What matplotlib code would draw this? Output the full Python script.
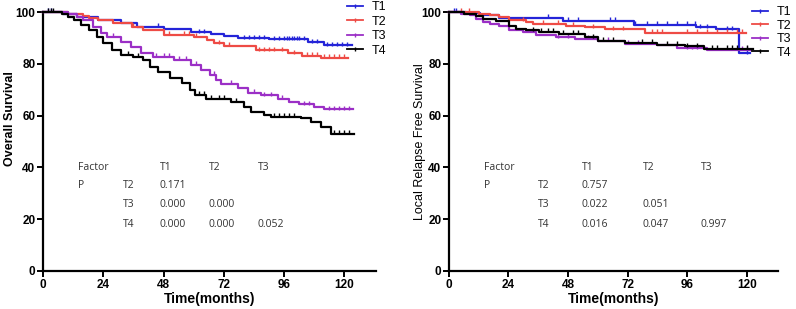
import numpy as np
import matplotlib
matplotlib.use('Agg')
import matplotlib.pyplot as plt

plt.rcParams['font.family'] = ['Liberation Sans', 'DejaVu Sans']

groups = ['T1', 'T2', 'T3', 'T4']
colors = ['#2424d8', '#ee4b45', '#9b2fc6', '#000000']

# Overall survival: step times (months) and survival (%)
os_t = {
    'T1': [0, 8, 13.5, 22, 31, 37.5, 48, 59, 67, 72, 77.5, 90, 105.5, 112, 123],
    'T2': [0, 10, 16, 18.5, 22, 28, 35.5, 40, 48, 60, 65.5, 68, 72, 84.7, 97.4, 103, 110.7, 121.5],
    'T3': [0, 10, 13.5, 16, 20, 23, 25.5, 31, 35, 39, 44, 52, 59, 63, 66.5, 69, 70.8, 77.5, 81.5,
           86.8, 93.4, 98, 102, 108, 112, 123.5],
    'T4': [0, 7.5, 10, 12.3, 15, 18.2, 21.5, 24, 27.5, 30.9, 36, 40, 42.5, 46, 50.5, 55.5, 58.5,
           60.5, 65, 74.8, 80, 82.7, 88, 90.7, 102.7, 106.7, 110.7, 114.7, 124],
}
os_v = {
    'T1': [100, 99.3, 97.9, 96.9, 95.6, 94.4, 93.5, 92.2, 91.4, 90.6, 89.8, 89.5, 88.4, 87.2, 87.2],
    'T2': [100, 99.2, 98.4, 97.6, 96.9, 95.6, 94.4, 93.1, 91.2, 90.5, 89.2, 87.9, 87.0, 85.3, 84.0,
           83.1, 82.3, 82.3],
    'T3': [100, 99.2, 97.9, 96.9, 94.4, 91.8, 90.5, 88.6, 86.6, 84.0, 82.8, 81.5, 79.6, 77.6, 75.7,
           73.7, 72.4, 70.5, 68.9, 67.9, 66.6, 65.3, 64.3, 63.5, 62.5, 62.5],
    'T4': [100, 99.2, 98.2, 96.9, 94.9, 93.0, 90.5, 87.9, 85.3, 83.4, 82.8, 81.5, 78.9, 77.0, 74.4,
           72.5, 69.9, 68.0, 66.6, 65.4, 63.5, 61.5, 60.2, 59.6, 59.0, 57.7, 55.7, 53.0, 53.0],
}
os_cens = {
    'T1': [2, 3, 46, 62, 64, 80, 82, 84, 86, 88, 92, 94, 96, 97, 98, 99, 100, 101, 102, 104, 107,
           109, 113, 115, 117, 119, 121],
    'T2': [36, 50, 56, 58, 61, 70, 74, 86, 88, 90, 92, 95, 100, 105, 107, 109, 112, 114, 116, 118, 120],
    'T3': [28, 45, 48, 50, 54, 57, 61, 68, 75, 84, 88, 91, 95, 104, 106, 114, 116, 118, 120, 122],
    'T4': [2, 3, 4, 34, 38, 62, 64, 67, 70, 72, 77, 92, 94, 96, 98, 100, 116, 118, 120, 122],
}

# Local relapse free survival
lr_t = {
    'T1': [0, 7, 12.4, 20, 46, 74.4, 99.6, 107.6, 117, 121.3],
    'T2': [0, 12, 16.4, 20, 24.4, 31, 34, 47, 55, 63, 79, 119.6],
    'T3': [0, 5, 8.4, 11, 13.7, 16.4, 20, 24.4, 29.7, 35, 43, 51, 60, 71, 84, 92, 104, 121.7],
    'T4': [0, 6, 11, 13.7, 19, 24.4, 27, 31, 36.4, 44.4, 55, 60, 71, 84, 95, 103, 122.4],
}
lr_v = {
    'T1': [100, 99.5, 99.0, 97.8, 96.6, 95.1, 94.1, 93.3, 84.0, 84.0],
    'T2': [100, 99.4, 98.7, 98.0, 96.8, 96.1, 95.5, 94.8, 94.2, 93.3, 92.0, 92.0],
    'T3': [100, 99.4, 98.7, 97.4, 96.1, 95.5, 94.6, 92.9, 92.3, 91.0, 90.3, 89.7, 89.0, 87.7, 87.1,
           86.0, 85.5, 85.5],
    'T4': [100, 99.4, 98.5, 97.2, 96.4, 94.8, 93.3, 92.9, 92.3, 91.6, 90.3, 89.0, 88.1, 87.4, 86.7,
           85.8, 85.8],
}
lr_cens = {
    'T1': [2, 3, 40, 48, 52, 65, 67, 75, 80, 84, 88, 92, 96, 99, 101, 104, 112, 114, 120],
    'T2': [5, 8, 30, 38, 44, 50, 58, 66, 70, 82, 84, 86, 96, 100, 104, 108, 112, 116, 118],
    'T3': [44, 48, 56, 64, 72, 76, 96, 98, 100, 118, 120],
    'T4': [34, 37, 40, 42, 46, 50, 52, 58, 62, 66, 78, 82, 88, 92, 96, 100, 106, 108, 112, 114, 116, 120],
}

# pairwise P tables
os_p = [['0.171', '', ''], ['0.000', '0.000', ''], ['0.000', '0.000', '0.052']]
lr_p = [['0.757', '', ''], ['0.022', '0.051', ''], ['0.016', '0.047', '0.997']]


def draw(ax, tt, vv, cc, pvals, cols_x, leg_xy, leg_sp):
    for g, c in zip(groups, colors):
        t = np.array(tt[g])
        v = np.array(vv[g])
        ax.step(t, v, where='post', color=c, lw=1.6, label=g, clip_on=False, zorder=3)
        ct = np.array(cc[g])
        idx = np.searchsorted(t, ct, side='right') - 1
        ax.plot(ct, v[idx] + 0.6, ls='none', marker='|', ms=3.5, mew=1.0, color=c,
                clip_on=False, zorder=3)
    ax.set_xlim(0, 132.5)
    ax.set_ylim(0, 100)
    ax.set_xticks([0, 24, 48, 72, 96, 120])
    ax.set_yticks([0, 20, 40, 60, 80, 100])
    for s in ['top', 'right']:
        ax.spines[s].set_visible(False)
    for s in ['left', 'bottom']:
        ax.spines[s].set_linewidth(1.6)
    ax.tick_params(width=1.4, length=4, labelsize=8.5, pad=1.5)
    for lab in ax.get_xticklabels() + ax.get_yticklabels():
        lab.set_fontweight('bold')
    ax.set_xlabel('Time(months)', fontsize=10, fontweight='bold', labelpad=1)

    tk = dict(fontsize=7.5, color='#333333', va='center', ha='left', family=['Open Sans', 'DejaVu Sans'])
    rows_y = [40, 33, 25.5, 18]
    ax.text(14, rows_y[0], 'Factor', **tk)
    ax.text(14, rows_y[1], 'P', **tk)
    for j, g in enumerate(groups[:3]):
        ax.text(cols_x[1 + j], rows_y[0], g, **tk)
    for i, g in enumerate(groups[1:]):
        ax.text(cols_x[0], rows_y[1 + i], g, **tk)
        for j in range(3):
            if pvals[i][j]:
                ax.text(cols_x[1 + j], rows_y[1 + i], pvals[i][j], **tk)

    leg = ax.legend(loc='upper left', frameon=False, fontsize=9, handlelength=1.3,
                    handletextpad=0.7, labelspacing=leg_sp, borderaxespad=0, borderpad=0,
                    bbox_to_anchor=leg_xy)
    for h in leg.get_lines():
        h.set_linewidth(1.3)
        h.set_marker('|')
        h.set_markersize(3.5)
    return ax


fig = plt.figure(figsize=(7.96, 3.09), dpi=100)
ax1 = fig.add_axes([0.054, 0.123, 0.418, 0.838])
ax2 = fig.add_axes([0.564, 0.123, 0.413, 0.838])

draw(ax1, os_t, os_v, os_cens, os_p, [32, 46.5, 66, 85.5], (0.913, 1.042), 0.2)
draw(ax2, lr_t, lr_v, lr_cens, lr_p, [36, 53.5, 78, 101.5], (0.921, 1.023), 0.12)

ax1.set_ylabel('Overall Survival', fontsize=9, fontweight='bold')
ax1.yaxis.set_label_coords(-0.081, 0.59)
ax2.set_ylabel('Local Relapse Free Survival', fontsize=9)
ax2.yaxis.set_label_coords(-0.07, 0.5)

fig.savefig('out.png', dpi=100)
